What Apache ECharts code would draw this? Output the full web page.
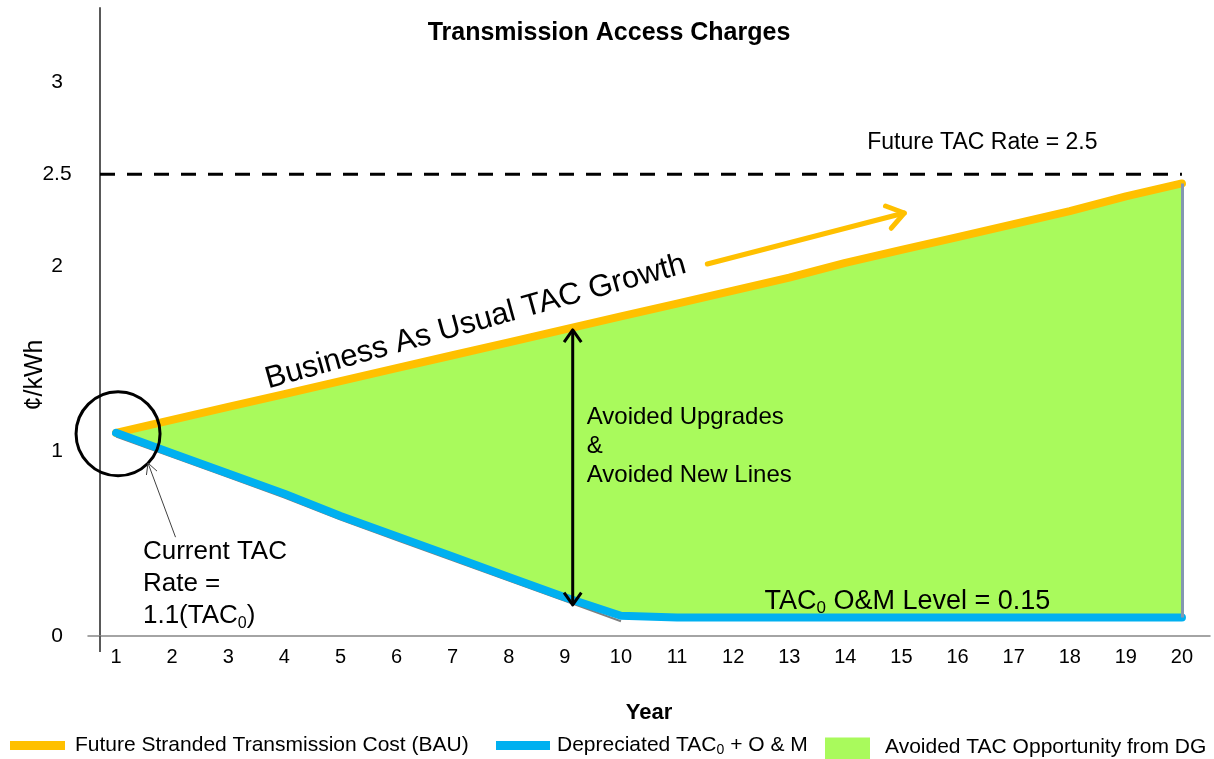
<!DOCTYPE html>
<html>
<head>
<meta charset="utf-8">
<title>Transmission Access Charges</title>
<script src="https://cdn.jsdelivr.net/npm/echarts@6/dist/echarts.min.js"></script>
<style>
    html, body { margin: 0; padding: 0; background: #fff; }
    #main { width: 1214px; height: 759px; }
</style>
</head>
<body>
<div id="main"></div>
<script>
// 横轴：年份
var years = ['1', '2', '3', '4', '5', '6', '7', '8', '9', '10',
             '11', '12', '13', '14', '15', '16', '17', '18', '19', '20'];
// BAU 输电费用（橙线）
var bauCost = [1.10, 1.17, 1.24, 1.31, 1.38, 1.45, 1.52, 1.59, 1.66, 1.73,
               1.80, 1.87, 1.94, 2.02, 2.09, 2.16, 2.23, 2.30, 2.38, 2.45];
// 折旧后的 TAC0 + O&M（蓝线）
var depreciated = [1.10, 0.99, 0.88, 0.77, 0.65, 0.54, 0.43, 0.32, 0.21, 0.11,
                   0.10, 0.10, 0.10, 0.10, 0.10, 0.10, 0.10, 0.10, 0.10, 0.10];
// 面积下边缘的灰线
var areaEdge = [1.08, 0.97, 0.86, 0.75, 0.63, 0.52, 0.41, 0.30, 0.19, 0.08,
                null, null, null, null, null, null, null, null, null, null];
// 纵轴显示的刻度
var yLabels = [0, 1, 2, 2.5, 3];
var futureRate = 2.5;

// 两线之间的差值 -> 绿色面积
var avoided = bauCost.map(function (v, i) {
    return +(v - depreciated[i]).toFixed(2);
});

var FONT = '"Liberation Sans", Arial, sans-serif';
var GRID_LEFT = 88, Y_OFFSET = -12;
var nOrange = 'Future Stranded Transmission Cost (BAU)';
var nBlue = 'Depreciated TAC0 + O & M';
var nArea = 'Avoided TAC Opportunity from DG';

var myChart = echarts.init(document.getElementById('main'));

var legendText = {
    fontSize: 21, color: '#000', fontFamily: FONT,
    rich: {
        sub: { fontSize: 14, fontFamily: FONT, color: '#000', verticalAlign: 'bottom', padding: [9, 0, 0, 0] }
    }
};

var option = {
    animation: false,
    title: {
        text: 'Transmission Access Charges',
        left: 604,
        textAlign: 'center',
        top: 16,
        textStyle: { fontSize: 25, fontWeight: 'bold', color: '#000', fontFamily: FONT }
    },
    grid: { left: GRID_LEFT, right: 4, top: 8, bottom: 123, containLabel: false },
    legend: [
        {
            data: [{ name: nOrange, icon: 'rect' }],
            left: 5, top: 730, itemWidth: 55, itemHeight: 9,
            textStyle: Object.assign({ padding: [0, 0, 0, 5] }, legendText)
        },
        {
            data: [{ name: nBlue, icon: 'rect' }],
            left: 491, top: 730, itemWidth: 54, itemHeight: 9,
            formatter: function () { return 'Depreciated TAC{sub|0} + O & M'; },
            textStyle: Object.assign({ padding: [0, 0, 0, 2] }, legendText)
        },
        {
            data: [{ name: nArea, icon: 'rect' }],
            left: 820, top: 732, itemWidth: 45, itemHeight: 26,
            textStyle: Object.assign({ padding: [0, 0, 6, 10] }, legendText)
        }
    ],
    xAxis: {
        type: 'category',
        data: years,
        boundaryGap: true,
        axisLine: { lineStyle: { color: '#868686', width: 1.5 } },
        axisTick: { show: false },
        axisLabel: { fontSize: 20, color: '#000', margin: 11, fontFamily: FONT },
        name: 'Year',
        nameLocation: 'middle',
        nameGap: 66,
        nameTextStyle: { fontSize: 22, fontWeight: 'bold', color: '#000', fontFamily: FONT }
    },
    yAxis: {
        type: 'value',
        min: 0,
        max: 3.4,
        interval: 0.5,
        offset: Y_OFFSET,
        axisLine: { show: true, lineStyle: { color: '#595959', width: 2 } },
        axisTick: { show: false },
        splitLine: { show: false },
        axisLabel: {
            fontSize: 21, color: '#000', fontFamily: FONT,
            align: 'center', margin: 43,
            formatter: function (v) {
                return yLabels.indexOf(v) >= 0 ? String(v) : '';
            }
        }
    },
    series: [
        {
            name: 'edge',
            type: 'line',
            data: areaEdge,
            symbol: 'none',
            silent: true,
            color: '#7f7f7f',
            lineStyle: { width: 2 },
            z: 2
        },
        {
            name: nBlue,
            type: 'line',
            stack: 'gap',
            data: depreciated,
            symbol: 'none',
            color: '#00B0F0',
            lineStyle: { width: 8, cap: 'round', join: 'round' },
            z: 4
        },
        {
            name: nArea,
            type: 'line',
            stack: 'gap',
            data: avoided,
            symbol: 'none',
            color: '#A9FA5C',
            lineStyle: { width: 0, opacity: 0 },
            areaStyle: { color: '#A9FA5C', opacity: 1 },
            z: 1,
            markLine: {
                silent: true,
                symbol: ['none', 'none'],
                label: { show: false },
                lineStyle: { color: '#8497B0', width: 3, type: 'solid' },
                data: [[
                    { coord: ['20', depreciated[19]] },
                    { coord: ['20', bauCost[19]] }
                ]]
            }
        },
        {
            name: nOrange,
            type: 'line',
            data: bauCost,
            symbol: 'none',
            color: '#FFC000',
            lineStyle: { width: 8, cap: 'round', join: 'round' },
            z: 3
        }
    ]
};

myChart.setOption(option);

// 数据坐标 (年份可为小数, 数值) -> 像素
function px(year, value) {
    var a = myChart.convertToPixel({ gridIndex: 0 }, [0, value]);
    var b = myChart.convertToPixel({ gridIndex: 0 }, [1, value]);
    return [a[0] + (year - 1) * (b[0] - a[0]), a[1]];
}

// 箭头头部（开口折线）
function head(tip, from, len, deg) {
    var ang = Math.atan2(from[1] - tip[1], from[0] - tip[0]);
    var d = deg * Math.PI / 180;
    return [
        [tip[0] + len * Math.cos(ang + d), tip[1] + len * Math.sin(ang + d)],
        tip,
        [tip[0] + len * Math.cos(ang - d), tip[1] + len * Math.sin(ang - d)]
    ];
}

function textEl(pos, text, size, extra) {
    var style = Object.assign({
        text: text, fill: '#000', fontSize: size, fontFamily: FONT,
        align: 'left', textAlign: 'left', verticalAlign: 'middle', textVerticalAlign: 'middle'
    }, extra || {});
    return { type: 'text', x: pos[0], y: pos[1], z: 100, style: style };
}

var axisX = GRID_LEFT - Y_OFFSET;
var g = [];

// 纵轴下端延伸
var p0 = px(1, 0);
g.push({ type: 'line', z: 100, shape: { x1: axisX, y1: p0[1], x2: axisX, y2: p0[1] + 16 },
    style: { stroke: '#595959', lineWidth: 2 } });

// 纵轴名称
g.push(textEl([35, 375], '¢/kWh', 25, { align: 'center', textAlign: 'center' }));
g[g.length - 1].rotation = Math.PI / 2;

// 2.5 虚线
var pr = px(20, futureRate);
g.push({ type: 'line', z: 100, shape: { x1: axisX, y1: pr[1], x2: pr[0], y2: pr[1] },
    style: { stroke: '#000', lineWidth: 3, lineDash: [15, 12] } });
g.push(textEl(px(14.39, 2.67), 'Future TAC Rate = 2.5', 23));

// 起点圆圈
var pc = px(1, 1.1);
g.push({ type: 'circle', z: 100, shape: { cx: pc[0] + 2, cy: pc[1] + 1, r: 42 },
    style: { fill: 'none', stroke: '#000', lineWidth: 3 } });

// 细箭头指向圆圈
var t1 = px(1.57, 0.936), f1 = px(2.06, 0.535);
g.push({ type: 'line', z: 100, shape: { x1: f1[0], y1: f1[1], x2: t1[0], y2: t1[1] },
    style: { stroke: '#404040', lineWidth: 1 } });
g.push({ type: 'polyline', z: 100, shape: { points: head(t1, f1, 12, 28) },
    style: { stroke: '#404040', lineWidth: 1, fill: 'none' } });
g.push(textEl(px(1.48, 0.455), 'Current TAC\nRate =\n1.1(TAC{sub|0})', 26, {
    lineHeight: 32, verticalAlign: 'top', textVerticalAlign: 'top',
    rich: { sub: { fontSize: 16, fontFamily: FONT, fill: '#000', verticalAlign: 'bottom', padding: [12, 0, 0, 0], lineHeight: 32 } }
}));
g[g.length - 1].y -= 16;

// BAU 增长文字和橙色箭头
g.push(textEl(px(7.41, 1.70), 'Business As Usual TAC Growth', 31, { align: 'center', textAlign: 'center' }));
g[g.length - 1].rotation = 15.5 * Math.PI / 180;
var oa = px(11.54, 2.014), ob = px(15.05, 2.29);
g.push({ type: 'line', z: 100, shape: { x1: oa[0], y1: oa[1], x2: ob[0], y2: ob[1] },
    style: { stroke: '#FFC000', lineWidth: 5, lineCap: 'round' } });
g.push({ type: 'polyline', z: 100, shape: { points: head(ob, oa, 20, 35) },
    style: { stroke: '#FFC000', lineWidth: 5, lineCap: 'round', lineJoin: 'round', fill: 'none' } });

// 双向箭头
var da = px(9.14, 1.657), db = px(9.14, 0.168);
g.push({ type: 'line', z: 100, shape: { x1: da[0], y1: da[1], x2: db[0], y2: db[1] },
    style: { stroke: '#000', lineWidth: 3 } });
g.push({ type: 'polyline', z: 100, shape: { points: head(da, db, 15, 35) },
    style: { stroke: '#000', lineWidth: 3, fill: 'none', lineJoin: 'round' } });
g.push({ type: 'polyline', z: 100, shape: { points: head(db, da, 15, 35) },
    style: { stroke: '#000', lineWidth: 3, fill: 'none', lineJoin: 'round' } });
g.push(textEl(px(9.39, 1.18), 'Avoided Upgrades\n&\nAvoided New Lines', 24, {
    lineHeight: 29, verticalAlign: 'top', textVerticalAlign: 'top'
}));
g[g.length - 1].y -= 15;

// O&M 水平说明
g.push(textEl(px(12.56, 0.184), 'TAC{sub|0} O&M Level = 0.15', 27, {
    rich: { sub: { fontSize: 17, fontFamily: FONT, fill: '#000', verticalAlign: 'bottom', padding: [13, 0, 0, 0] } }
}));

myChart.setOption({ graphic: g });
</script>
</body>
</html>
